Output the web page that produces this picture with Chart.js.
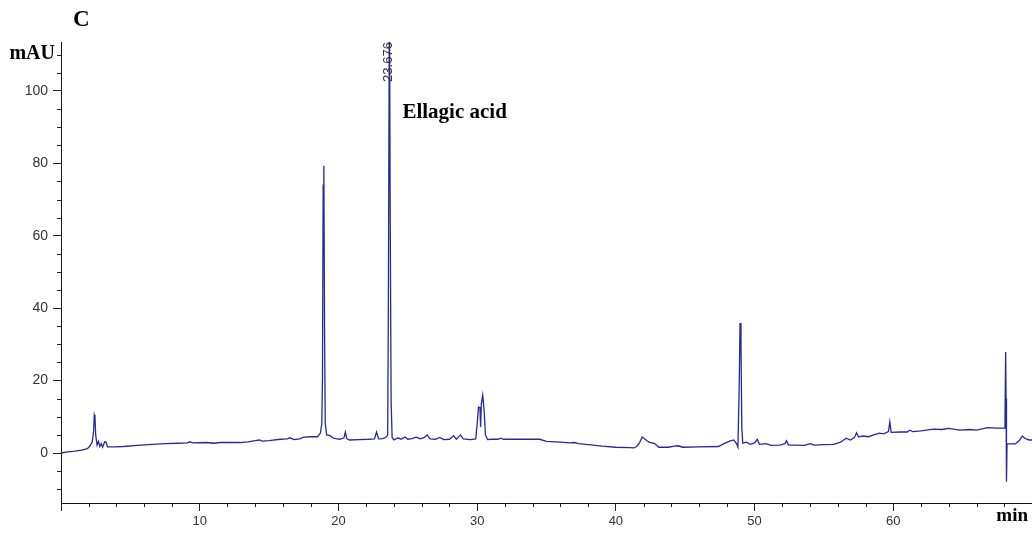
<!DOCTYPE html>
<html>
<head>
<meta charset="utf-8">
<script src="https://cdn.jsdelivr.net/npm/chart.js@4/dist/chart.umd.min.js"></script>
<style>
  html, body { margin: 0; padding: 0; background: #fff; }
  #wrap { width: 1032px; height: 533px; position: relative; }
</style>
</head>
<body>
<div id="wrap"><canvas id="chroma"></canvas></div>
<script>
// --- Data ---
const timeMin = [
  0.0, 0.5, 1.0, 1.5, 1.9, 2.1, 2.25, 2.35, 2.4, 2.45, 2.5, 2.6, 2.7, 2.8, 2.9, 3.0, 3.15, 3.25, 3.35, 3.8,
  4.5, 5.5, 6.6, 7.5, 8.5, 9.1, 9.3, 9.5, 10.5, 11.0, 11.5, 12.9, 13.5, 14.0, 14.3, 14.5, 15.0, 15.8, 16.3, 16.5,
  16.8, 17.2, 17.5, 18.0, 18.5, 18.7, 18.8, 18.85, 18.9, 18.95, 19.0, 19.05, 19.15, 19.4, 19.6, 19.8, 20.1, 20.4, 20.5, 20.6,
  20.8, 21.5, 22.2, 22.6, 22.75, 22.9, 23.2, 23.45, 23.55, 23.6, 23.676, 23.73, 23.8, 23.87, 24.0, 24.3, 24.5, 24.8, 25.0, 25.3,
  25.6, 25.9, 26.2, 26.4, 26.6, 27.0, 27.3, 27.6, 28.0, 28.3, 28.5, 28.8, 29.0, 29.5, 29.9, 30.0, 30.1, 30.2, 30.25, 30.3,
  30.4, 30.5, 30.6, 30.75, 31.0, 31.5, 31.7, 31.9, 33.0, 34.5, 35.0, 36.0, 36.7, 37.0, 37.3, 38.0, 39.0, 40.0, 41.0, 41.3,
  41.5, 41.7, 41.9, 42.1, 42.4, 42.8, 43.1, 43.8, 44.2, 44.5, 44.8, 46.0, 47.4, 47.8, 48.2, 48.5, 48.7, 48.8, 48.9, 48.95,
  49.02, 49.08, 49.15, 49.4, 49.7, 50.0, 50.2, 50.35, 50.8, 51.2, 51.8, 52.2, 52.3, 52.45, 53.0, 53.6, 54.0, 54.3, 55.0, 55.7,
  56.2, 56.6, 56.9, 57.2, 57.35, 57.5, 57.8, 58.2, 58.6, 59.0, 59.3, 59.65, 59.75, 59.85, 60.5, 61.0, 61.2, 61.4, 62.0, 62.9,
  63.5, 64.0, 64.8, 65.5, 66.0, 66.8, 67.5, 68.05, 68.1, 68.13, 68.16, 68.2, 68.8, 69.1, 69.3, 69.5, 69.8, 70.0
];
const signalMAU = [
  0.0, 0.3, 0.5, 0.8, 1.2, 2.0, 3.0, 6.0, 10.5, 9.8, 5.0, 2.2, 3.2, 1.8, 2.6, 1.6, 3.1, 3.0, 1.7, 1.7,
  1.8, 2.1, 2.4, 2.6, 2.7, 2.8, 3.1, 2.8, 2.9, 2.7, 2.9, 2.9, 3.1, 3.4, 3.6, 3.3, 3.4, 3.8, 3.9, 4.2,
  3.7, 3.9, 4.4, 4.5, 4.5, 5.5, 8.0, 21, 74, 79.3, 33, 8.3, 5.0, 4.8, 4.2, 4.0, 3.8, 4.2, 5.8, 4.0,
  3.6, 3.7, 3.8, 3.9, 5.8, 3.9, 4.0, 4.4, 5.0, 40, 130, 68, 14, 4.3, 3.6, 4.2, 3.8, 4.4, 3.8, 4.0,
  4.4, 3.9, 4.3, 5.0, 3.9, 3.8, 4.3, 3.7, 3.8, 4.8, 3.8, 5.0, 3.9, 3.7, 3.9, 8.0, 12.7, 12.5, 7.2, 13.5,
  16.0, 12.0, 5.0, 3.7, 3.8, 3.8, 4.1, 3.8, 3.8, 3.8, 3.2, 3.0, 2.8, 2.9, 2.6, 2.3, 1.9, 1.6, 1.5, 1.4,
  1.8, 2.8, 4.4, 3.8, 3.0, 2.6, 1.6, 1.6, 1.9, 2.0, 1.6, 1.7, 1.8, 2.6, 3.3, 3.6, 2.6, 1.6, 20, 35.9,
  30, 7.0, 2.7, 3.0, 2.4, 2.8, 3.8, 2.4, 2.6, 2.1, 2.2, 2.6, 3.4, 2.2, 2.2, 2.1, 2.6, 2.2, 2.3, 2.4,
  3.0, 4.1, 3.6, 4.3, 5.6, 4.4, 4.7, 4.5, 5.0, 5.5, 5.3, 5.9, 8.6, 5.7, 5.8, 5.8, 6.3, 5.9, 6.1, 6.6,
  6.5, 6.8, 6.3, 6.5, 6.3, 7.0, 6.9, 6.9, 27.9, 15, -7.9, 2.5, 2.5, 3.5, 4.7, 4.0, 3.6, 3.6
];
const xTickLabels = [10, 20, 30, 40, 50, 60];
const yTickLabels = [0, 20, 40, 60, 80, 100];
const peakTimes = [23.676];
const peakNames = ['Ellagic acid'];

const serif = '"Liberation Serif", "Times New Roman", serif';
const sans = '"Liberation Sans", Arial, sans-serif';

// minor ticks, panel letter, unit labels and peak annotation
const decorPlugin = {
  id: 'decor',
  afterDraw(chart) {
    const c = chart.ctx;
    const xs = chart.scales.x, ys = chart.scales.y;
    const area = chart.chartArea;
    c.save();
    c.strokeStyle = '#222';
    c.lineWidth = 1;
    c.beginPath();
    for (let v = -10; v <= 110; v += 5) {
      if (v % 20 === 0) continue;
      const py = Math.round(ys.getPixelForValue(v)) + 0.5;
      c.moveTo(area.left - 4, py);
      c.lineTo(area.left, py);
    }
    for (let t = 2; t < 70; t += 2) {
      if (t % 10 === 0) continue;
      const px = Math.round(xs.getPixelForValue(t)) + 0.5;
      c.moveTo(px, area.bottom);
      c.lineTo(px, area.bottom + 4);
    }
    c.stroke();

    c.fillStyle = '#000';
    c.font = 'bold 23px ' + serif;
    c.textAlign = 'left';
    c.textBaseline = 'middle';
    c.fillText('C', 73, 20);

    c.font = 'bold 20px ' + serif;
    c.textAlign = 'right';
    c.fillText('mAU', 55, 54);
    c.font = 'bold 19px ' + serif;
    c.fillText('min', 1028, 516);

    peakTimes.forEach((t, i) => {
      const px = xs.getPixelForValue(t);
      c.save();
      c.translate(px - 1, 62);
      c.rotate(-Math.PI / 2);
      c.font = '13px ' + sans;
      c.fillStyle = '#333';
      c.textAlign = 'center';
      c.textBaseline = 'middle';
      c.fillText(t.toFixed(3), 0, 0);
      c.restore();

      c.font = 'bold 21px ' + serif;
      c.fillStyle = '#000';
      c.textAlign = 'left';
      c.textBaseline = 'middle';
      c.fillText(peakNames[i], px + 13, 113);
    });
    c.restore();
  }
};

const ctx = document.getElementById('chroma').getContext('2d');
const chroma = new Chart(ctx, {
  type: 'line',
  data: {
    datasets: [{
      data: timeMin.map((t, i) => ({ x: t, y: signalMAU[i] })),
      borderColor: '#28289a',
      borderWidth: 1.3,
      pointRadius: 0,
      tension: 0,
      fill: false
    }]
  },
  options: {
    responsive: true,
    maintainAspectRatio: false,
    animation: false,
    layout: { padding: { top: 42, right: 0, left: 0, bottom: 0 } },
    plugins: { legend: { display: false }, tooltip: { enabled: false } },
    scales: {
      x: {
        type: 'linear',
        min: 0,
        max: 70,
        border: { color: '#111', width: 1 },
        grid: { drawOnChartArea: false, tickLength: 8, color: '#222' },
        ticks: {
          stepSize: 10,
          includeBounds: false,
          autoSkip: false,
          maxRotation: 0,
          padding: 3,
          color: '#333',
          font: { family: sans, size: 13 },
          callback: (v) => xTickLabels.includes(Math.round(v)) ? String(Math.round(v)) : ''
        },
        // drop the tick at the right edge so no padding is reserved for it
        afterBuildTicks: (s) => { s.ticks = s.ticks.filter(t => t.value < 70); },
        afterFit: (s) => { s.height = 30; }
      },
      y: {
        type: 'linear',
        min: -13.8,
        max: 113.5,
        border: { color: '#111', width: 1 },
        grid: { drawOnChartArea: false, tickLength: 8, color: '#222' },
        ticks: {
          stepSize: 20,
          includeBounds: false,
          padding: 5,
          color: '#333',
          font: { family: sans, size: 14 },
          callback: (v) => yTickLabels.includes(v) ? String(v) : ''
        },
        afterFit: (s) => { s.width = 61; }
      }
    }
  },
  plugins: [decorPlugin]
});
</script>
</body>
</html>
